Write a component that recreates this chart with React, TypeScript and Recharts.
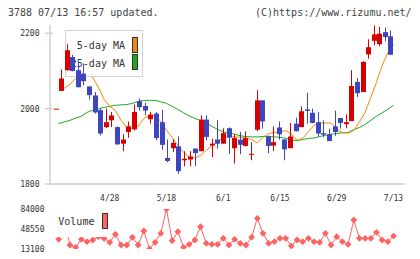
import React from "react";
import { ComposedChart, LineChart, Bar, Line, XAxis, YAxis } from "recharts";

// trading days, 4/14 is the leftover stub at the left edge
const dates = [
  "4/14", "4/15", "4/16", "4/17", "4/20", "4/21", "4/22", "4/23", "4/24", "4/27", "4/28",
  "4/30", "5/1", "5/7", "5/8", "5/11", "5/12", "5/13", "5/14", "5/15", "5/18",
  "5/19", "5/20", "5/21", "5/22", "5/25", "5/26", "5/27", "5/28", "5/29", "6/1",
  "6/2", "6/3", "6/4", "6/5", "6/8", "6/9", "6/10", "6/11", "6/12", "6/15",
  "6/16", "6/17", "6/18", "6/19", "6/22", "6/23", "6/24", "6/25", "6/26", "6/29",
  "6/30", "7/1", "7/2", "7/3", "7/6", "7/7", "7/8", "7/9", "7/10", "7/13",
];

const opens = [
  2000, 2047, 2102, 2137, 2102, 2093, 2059, 2035, 1996, 1951, 1969,
  1951, 1907, 1938, 1945, 2020, 2007, 1972, 1987, 1964, 1869,
  1895, 1900, 1863, 1865, 1894, 1887, 1971, 1902, 1918, 1907,
  1948, 1895, 1918, 1901, 1878, 1944, 2022, 1926, 1902, 1950,
  1918, 1895, 1960, 1951, 1998, 1989, 1964, 1935, 1932, 1953,
  1975, 1959, 1967, 2071, 2044, 2144, 2180, 2171, 2203, 2192,
];
const highs = [
  2000, 2104, 2171, 2143, 2124, 2120, 2059, 2044, 2000, 2000, 1991,
  1953, 1932, 1966, 2011, 2027, 2015, 1991, 1991, 1997, 1918,
  1918, 1926, 1887, 1887, 1894, 1982, 1982, 1920, 1969, 1948,
  1950, 1932, 1938, 1940, 1911, 2049, 2022, 1929, 1953, 1966,
  1919, 1962, 1976, 2006, 2042, 2000, 1991, 1969, 1947, 1995,
  1975, 1985, 2102, 2081, 2126, 2184, 2221, 2217, 2215, 2208,
];
const lows = [
  2000, 2047, 2101, 2099, 2056, 2062, 2024, 1987, 1929, 1948, 1951,
  1905, 1887, 1923, 1942, 1995, 1982, 1960, 1916, 1891, 1858,
  1885, 1827, 1847, 1847, 1847, 1887, 1916, 1871, 1894, 1907,
  1880, 1854, 1879, 1900, 1863, 1940, 1947, 1882, 1887, 1918,
  1863, 1895, 1940, 1951, 1960, 1961, 1925, 1925, 1914, 1928,
  1947, 1948, 1967, 2031, 2044, 2133, 2168, 2166, 2179, 2143,
];
const closes = [
  2000, 2080, 2155, 2100, 2057, 2073, 2036, 1990, 1934, 1964, 1982,
  1905, 1918, 1953, 1991, 2004, 1995, 1984, 1922, 1904, 1861,
  1909, 1834, 1867, 1873, 1882, 1971, 1925, 1907, 1907, 1935,
  1923, 1922, 1904, 1922, 1880, 2022, 1966, 1901, 1911, 1932,
  1892, 1926, 1940, 1993, 1994, 1962, 1934, 1931, 1914, 1938,
  1962, 1964, 2060, 2041, 2124, 2163, 2197, 2199, 2190, 2143,
];

const ma5 = [
  null, 2059, 2054, 2065, 2080, 2091, 2091, 2083, 2057, 2025, 2006,
  1995, 1969, 1950, 1948, 1953, 1974, 1983, 1981, 1966, 1942,
  1924, 1902, 1884, 1872, 1869, 1876, 1889, 1902, 1914, 1922,
  1926, 1925, 1924, 1922, 1918, 1909, 1924, 1934, 1937, 1938,
  1942, 1932, 1916, 1921, 1939, 1956, 1962, 1962, 1962, 1946,
  1936, 1935, 1942, 1965, 1990, 2030, 2070, 2115, 2148, 2170,
];
const ma25 = [
  null, 1960, 1965, 1969, 1975, 1980, 1990, 1996, 2000, 2003, 2006,
  2009, 2010, 2011, 2014, 2019, 2022, 2022, 2022, 2018, 2014,
  2006, 1998, 1989, 1981, 1974, 1968, 1962, 1953, 1945, 1938,
  1936, 1932, 1928, 1926, 1925, 1925, 1926, 1926, 1925, 1924,
  1921, 1917, 1915, 1918, 1921, 1922, 1926, 1929, 1932, 1934,
  1936, 1937, 1944, 1950, 1958, 1969, 1980, 1989, 1998, 2009,
];

const volumes = [
  null, 30300, 58000, 20190, 16100, 30300, 26100, 29050, 35000, 31900, 25000,
  39150, 20190, 20190, 33840, 20190, 45000, 13100, 25000, 40900, 84000,
  27800, 43800, 16100, 21400, 29050, 52600, 23200, 21400, 21400, 32060,
  20190, 30300, 23200, 20190, 33840, 67500, 40900, 23200, 26100, 32060,
  32060, 18400, 29050, 26100, 32060, 26100, 25000, 40900, 20190, 34900,
  26100, 21400, 64500, 32060, 32060, 32060, 42700, 29050, 26100, 36000,
];

const dateTicks = ["4/28", "5/18", "6/1", "6/15", "6/29", "7/13"];
const priceTicks = [1800, 2000, 2200];
const volumeTicks = [13100, 48550, 84000];
const frameTicks = [0, 1, 2, 3, 4, 5, 6, 7, 8, 9, 10, 11];

const rows = dates.map((date, i) => ({
  date,
  open: opens[i],
  high: highs[i],
  low: lows[i],
  close: closes[i],
  ma5: ma5[i],
  ma25: ma25[i],
  volume: volumes[i],
}));

const MONO = '"DejaVu Sans Mono", monospace';
const UP = "#d60000";
const DOWN = "#3d45bf";
const MA5_COLOR = "#f0890f";
const MA25_COLOR = "#1ea71e";
const VOL_COLOR = "#ff6262";
const AXIS = "#dcdcdc";
const TICK = "#cfcfcf";
const LABEL = "#333";

const W = 420;
const PRICE_DOMAIN = [1800, 2222];
const X_PAD = { left: 3, right: 11.5 };

function Candle(props: any) {
  const { x, y, width, height, payload } = props;
  if (!payload) return null;
  const { open, close, high, low } = payload;
  const cx = Math.round(x + width / 2) + 0.5;
  const span = high - low;
  const toY = (v: number) => (span > 0 ? y + ((high - v) / span) * height : y);
  const color = close >= open ? UP : DOWN;
  const top = toY(Math.max(open, close));
  const bottom = toY(Math.min(open, close));
  return (
    <g>
      <line x1={cx} x2={cx} y1={y} y2={y + height} stroke={color} strokeWidth={1} />
      <rect x={cx - 2.5} y={top} width={5} height={Math.max(bottom - top, 1)} fill={color} />
    </g>
  );
}

const DateTick = ({ x, y, payload }: any) => (
  <text x={x} y={y + 16.5} textAnchor="middle" fontSize={8} fontFamily={MONO} fill={LABEL}>
    {payload.value}
  </text>
);

const FrameTick = ({ x, y }: any) => (
  <line x1={x} x2={x} y1={y - 4} y2={y + 5} stroke={TICK} strokeWidth={1.5} />
);

const PriceTick = ({ x, y, payload }: any) => (
  <g>
    <line x1={x - 5} x2={x + 3} y1={y} y2={y} stroke={TICK} strokeWidth={1.5} />
    <text x={x - 10.5} y={y + 3} textAnchor="end" fontSize={8} fontFamily={MONO} fill={LABEL}>
      {payload.value}
    </text>
  </g>
);

const VolumeTick = ({ y, payload }: any) => (
  <text x={44.5} y={y + 3} textAnchor="end" fontSize={8} fontFamily={MONO} fill={LABEL}>
    {payload.value}
  </text>
);

const Diamond = ({ cx, cy }: any) => {
  if (cx == null || cy == null) return null;
  const r = 3.4;
  return (
    <polygon
      points={`${cx},${cy - r} ${cx + r},${cy} ${cx},${cy + r} ${cx - r},${cy}`}
      fill={VOL_COLOR}
    />
  );
};

const swatch = (color: string, left: number, top: number, height: number) => ({
  position: "absolute" as const,
  left,
  top,
  width: 6,
  height,
  boxSizing: "border-box" as const,
  border: "1px solid #333",
  background: color,
});

const legendText = (top: number) => ({
  position: "absolute" as const,
  right: 17,
  top,
  fontSize: 10,
  lineHeight: "12px",
  color: LABEL,
  whiteSpace: "pre" as const,
});

export default function App() {
  return (
    <div
      style={{
        position: "absolute",
        left: 0,
        top: 0,
        width: W,
        height: 259,
        background: "#fff",
        fontFamily: MONO,
        overflow: "hidden",
      }}
    >
      <div style={{ position: "absolute", left: 8, top: 6, fontSize: 10, lineHeight: "13px", color: "#444" }}>
        3788 07/13 16:57 updated.
      </div>
      <div style={{ position: "absolute", left: 255, top: 6, fontSize: 10, lineHeight: "13px", color: "#444" }}>
        (C)https://www.rizumu.net/
      </div>

      {/* axes and moving averages */}
      <div style={{ position: "absolute", left: 0, top: 0 }}>
        <ComposedChart width={W} height={205} data={rows} margin={{ top: 25, right: 15, bottom: 0, left: 0 }}>
          <XAxis
            dataKey="date"
            height={21}
            padding={X_PAD}
            ticks={dateTicks}
            interval={0}
            tickLine={false}
            tickSize={0}
            tickMargin={0}
            axisLine={{ stroke: AXIS, strokeWidth: 2 }}
            tick={<DateTick />}
          />
          <XAxis
            xAxisId="frame"
            type="number"
            domain={[0, 11]}
            ticks={frameTicks}
            interval={0}
            height={0}
            axisLine={false}
            tickLine={false}
            tickSize={0}
            tickMargin={0}
            tick={<FrameTick />}
          />
          <YAxis
            width={50}
            domain={PRICE_DOMAIN}
            allowDataOverflow
            ticks={priceTicks}
            interval={0}
            tickLine={false}
            tickSize={0}
            tickMargin={0}
            axisLine={{ stroke: AXIS, strokeWidth: 2 }}
            tick={<PriceTick />}
          />
          <Line dataKey="ma25" stroke={MA25_COLOR} strokeWidth={1} dot={false} isAnimationActive={false} />
          <Line dataKey="ma5" stroke={MA5_COLOR} strokeWidth={1} dot={false} isAnimationActive={false} />
        </ComposedChart>
      </div>

      {/* moving average legend */}
      <div
        style={{
          position: "absolute",
          left: 65,
          top: 30,
          width: 78,
          height: 47,
          boxSizing: "border-box",
          border: "1px solid #d4d4d4",
          background: "#fff",
        }}
      >
        <span style={legendText(9)}>5-day MA</span>
        <span style={legendText(26.5)}>25-day MA</span>
        <div style={swatch(MA5_COLOR, 65.7, 6.3, 15.4)} />
        <div style={swatch(MA25_COLOR, 65.7, 23.3, 15.4)} />
      </div>

      {/* candles */}
      <div style={{ position: "absolute", left: 0, top: 0, pointerEvents: "none" }}>
        <ComposedChart width={W} height={205} data={rows} margin={{ top: 25, right: 15, bottom: 21, left: 50 }}>
          <XAxis dataKey="date" hide padding={X_PAD} />
          <YAxis hide domain={PRICE_DOMAIN} allowDataOverflow />
          <Bar
            dataKey={(d: any) => [d.low, d.high]}
            shape={<Candle />}
            isAnimationActive={false}
          />
        </ComposedChart>
      </div>

      {/* volume */}
      <div style={{ position: "absolute", left: 0, top: 195 }}>
        <LineChart width={W} height={64} data={rows} margin={{ top: 14, right: 15, bottom: 10, left: 0 }}>
          <XAxis dataKey="date" hide padding={X_PAD} />
          <YAxis
            width={50}
            domain={[13100, 84000]}
            allowDataOverflow
            ticks={volumeTicks}
            interval={0}
            axisLine={false}
            tickLine={false}
            tickSize={0}
            tickMargin={0}
            tick={<VolumeTick />}
          />
          <Line
            dataKey="volume"
            stroke={VOL_COLOR}
            strokeWidth={1}
            dot={<Diamond />}
            isAnimationActive={false}
          />
        </LineChart>
      </div>

      <div style={{ position: "absolute", left: 52, top: 206, width: 58, height: 31, background: "#fff" }}>
        <span style={{ position: "absolute", left: 6.3, top: 10, fontSize: 10, lineHeight: "12px", color: LABEL }}>
          Volume
        </span>
        <div style={swatch(VOL_COLOR, 49.7, 6.7, 16)} />
      </div>
    </div>
  );
}
